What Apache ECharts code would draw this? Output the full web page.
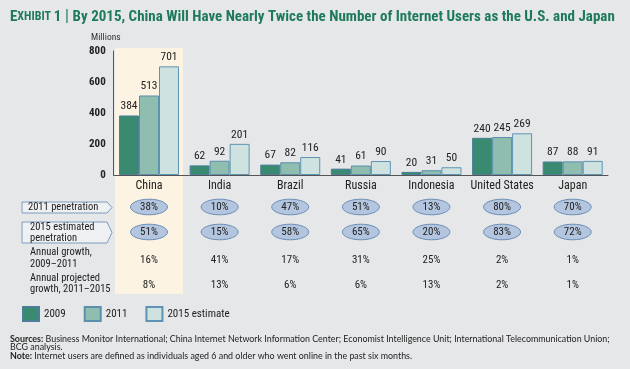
<!DOCTYPE html>
<html><head><meta charset="utf-8">
<script src="https://cdn.jsdelivr.net/npm/echarts@6/dist/echarts.min.js"></script>
<style>html,body{margin:0;padding:0;background:#e6e7e9}#c{width:630px;height:369px}</style>
</head><body><div id="c"></div>
<script>
const categories = ['China','India','Brazil','Russia','Indonesia','United States','Japan'];
const users2009 = [384, 62, 67, 41, 20, 240, 87];
const users2011 = [513, 92, 82, 61, 31, 245, 88];
const users2015 = [701, 201, 116, 90, 50, 269, 91];
const penetration2011 = [38, 10, 47, 51, 13, 80, 70];
const penetration2015 = [51, 15, 58, 65, 20, 83, 72];
const growth0911 = [16, 41, 17, 31, 25, 2, 1];
const growth1115 = [8, 13, 6, 6, 13, 2, 1];
const yTicks = [0, 200, 400, 600, 800];
const highlighted = ['China'];

const FONT = 'Roboto Condensed';
const FOOT = 'Lato';
const TXT = '#222';
const GREEN = '#1f7a5b';
const chart = echarts.init(document.getElementById('c'), null, {renderer:'canvas'});

const tableData = categories.map((c,i)=>[i, penetration2011[i], penetration2015[i], growth0911[i], growth1115[i]]);

const option = {
  backgroundColor: '#e6e7e9',
  animation: false,
  textStyle: {fontFamily: FONT},
  grid: {left: 113.7, right: 22, top: 51, bottom: 194},
  legend: {
    left: 22, top: 306, padding: 0, itemWidth: 16, itemHeight: 14, itemGap: 18,
    icon: 'rect',
    textStyle: {fontFamily: FONT, fontSize: 11, color: TXT},
    data: ['2009','2011','2015 estimate']
  },
  xAxis: {
    type: 'category', data: categories, z: 5,
    axisLine: {lineStyle: {color: '#555', width: 1}},
    axisTick: {show: false},
    axisLabel: {fontFamily: FONT, fontSize: 12, color: TXT, margin: 5, interval: 0}
  },
  yAxis: {
    type: 'value', min: yTicks[0], max: yTicks[yTicks.length-1], interval: 200, z: 5,
    axisLine: {show: true, lineStyle: {color: '#555', width: 1}},
    axisTick: {show: false},
    splitLine: {show: false},
    axisLabel: {fontFamily: FONT, fontSize: 11, fontWeight: 'bold', color: TXT, margin: 8}
  },
  series: [
    {
      type: 'custom', z: 1, silent: true, clip: false,
      data: highlighted.map(c => [categories.indexOf(c)]),
      renderItem: function(params, api){
        const cx = api.coord([api.value(0), 0])[0];
        const w = api.size([1, 0])[0] * 0.965;
        const top = params.coordSys.y - 3;
        return {type: 'rect', shape: {x: cx - w/2, y: top, width: w, height: 294 - top},
                style: {fill: '#fdf3e3'}};
      }
    },
    {
      name: '2009', type: 'bar', data: users2009, barWidth: 20, barGap: '0%', z: 3,
      itemStyle: {color: '#3a8a72', borderColor: '#4a7f97', borderWidth: 1},
      label: {show: true, position: 'top', distance: 3, fontFamily: FONT, fontSize: 11.5, color: TXT}
    },
    {
      name: '2011', type: 'bar', data: users2011, barWidth: 20, barGap: '0%', z: 3,
      itemStyle: {color: '#8fbdaf', borderColor: '#5a8fad', borderWidth: 1},
      label: {show: true, position: 'top', distance: 3, fontFamily: FONT, fontSize: 11.5, color: TXT}
    },
    {
      name: '2015 estimate', type: 'bar', data: users2015, barWidth: 20, barGap: '0%', z: 3,
      itemStyle: {color: '#cee3df', borderColor: '#5f93b3', borderWidth: 1},
      label: {show: true, position: 'top', distance: 3, fontFamily: FONT, fontSize: 11.5, color: TXT}
    },
    {
      type: 'custom', z: 4, silent: true, clip: false,
      data: tableData,
      renderItem: function(params, api){
        const cx = api.coord([api.value(0), 0])[0];
        const ts = {fontFamily: FONT, fontSize: 11, fill: TXT, align: 'center', verticalAlign: 'middle'};
        const pct = v => v + '%';
        return {type: 'group', children: [
          {type: 'ellipse', shape: {cx: cx, cy: 207, rx: 18.5, ry: 7.8}, style: {fill: '#b4c6df', stroke: '#6b8db6', lineWidth: 1}},
          {type: 'text', x: cx, y: 207.5, style: Object.assign({text: pct(api.value(1))}, ts)},
          {type: 'ellipse', shape: {cx: cx, cy: 232, rx: 18.5, ry: 7.8}, style: {fill: '#b4c6df', stroke: '#6b8db6', lineWidth: 1}},
          {type: 'text', x: cx, y: 232.5, style: Object.assign({text: pct(api.value(2))}, ts)},
          {type: 'text', x: cx, y: 260, style: Object.assign({text: pct(api.value(3))}, ts)},
          {type: 'text', x: cx, y: 285, style: Object.assign({text: pct(api.value(4))}, ts)}
        ]};
      }
    }
  ],
  graphic: [
    {type: 'text', left: 10, top: 9, style: {
      rich: {
        big: {fontFamily: FONT, fontSize: 15, fontWeight: 'bold', fill: GREEN},
        sc: {fontFamily: FONT, fontSize: 12, fontWeight: 'bold', fill: GREEN},
        bar: {fontFamily: FONT, fontSize: 16, fontWeight: 'normal', fill: GREEN},
        t: {fontFamily: FONT, fontSize: 15, fontWeight: 'bold', fill: GREEN}
      },
      text: '{big|E}{sc|XHIBIT }{big|1}{bar| | }{t|By 2015, China Will Have Nearly Twice the Number of Internet Users as the U.S. and Japan}'
    }},
    {type: 'text', left: 91, top: 33, style: {text: 'Millions', fontFamily: FONT, fontSize: 9.5, fill: '#333'}},
    {type: 'polygon', shape: {points: [[22,202],[107,202],[112,207.5],[107,213],[22,213]]}, style: {fill: '#eff0f2', stroke: '#7d9cc0', lineWidth: 1}},
    {type: 'polygon', shape: {points: [[22,222],[107,222],[112,232.5],[107,243],[22,243]]}, style: {fill: '#eff0f2', stroke: '#7d9cc0', lineWidth: 1}},
    {type: 'text', left: 28, top: 202.3, style: {text: '2011 penetration', fontFamily: FONT, fontSize: 10.5, fill: TXT}},
    {type: 'text', left: 30, top: 221.8, style: {text: '2015 estimated\npenetration', fontFamily: FONT, fontSize: 10.5, lineHeight: 11, fill: TXT}},
    {type: 'text', left: 30, top: 247, style: {text: 'Annual growth,\n2009–2011', fontFamily: FONT, fontSize: 10.5, lineHeight: 11.5, fill: TXT}},
    {type: 'text', left: 30, top: 272.5, style: {text: 'Annual projected\ngrowth, 2011–2015', fontFamily: FONT, fontSize: 10.5, lineHeight: 11.5, fill: TXT}},
    {type: 'text', left: 10, top: 334.5, style: {
      rich: {b: {fontFamily: FOOT, fontSize: 8.9, fontWeight: 'bold', fill: TXT}, n: {fontFamily: FOOT, fontSize: 8.9, fill: TXT}},
      lineHeight: 8.6,
      text: '{b|Sources:}{n| Business Monitor International; China Internet Network Information Center; Economist Intelligence Unit; International Telecommunication Union;}\n{n|BCG analysis.}\n{b|Note:}{n| Internet users are defined as individuals aged 6 and older who went online in the past six months.}'
    }}
  ]
};
chart.setOption(option);
</script></body></html>
